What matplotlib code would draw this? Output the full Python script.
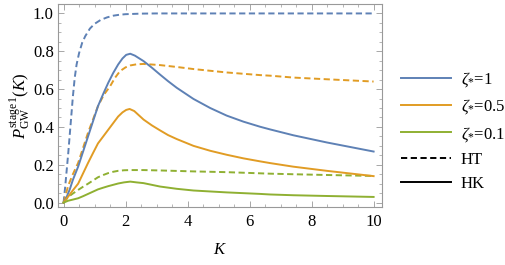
import matplotlib
matplotlib.use("Agg")
import matplotlib.pyplot as plt
from matplotlib.ticker import MultipleLocator, FormatStrFormatter
from matplotlib.lines import Line2D

plt.rcParams['font.family'] = ['Liberation Serif', 'DejaVu Serif']
plt.rcParams['mathtext.fontset'] = 'custom'
plt.rcParams['mathtext.rm'] = 'Liberation Serif'
plt.rcParams['mathtext.it'] = 'Liberation Serif:italic'

# ---- HT (dashed) curves ----
K_ht_z1 = [0, 0.05, 0.1, 0.15, 0.2, 0.25, 0.3, 0.36, 0.42, 0.5, 0.6, 0.7, 0.85, 1.0, 1.2, 1.4, 1.6, 1.8, 2.0, 2.5, 3.0, 10.0]
ht_z1 = [0, 0.08, 0.17, 0.26, 0.36, 0.46, 0.56, 0.66, 0.73, 0.79, 0.845, 0.88, 0.92, 0.945, 0.966, 0.979, 0.988, 0.993, 0.996, 0.999, 1.0, 1.0]

K_ht_z05 = [0, 0.15, 0.3, 0.47, 0.63, 0.79, 0.95, 1.11, 1.3, 1.5, 1.66, 1.82, 2.0, 2.15, 2.35, 2.58, 3.11, 3.65, 4.19, 5.26, 6.34, 6.66, 7.41, 8.49, 10.0]
ht_z05 = [0, 0.09, 0.15, 0.21, 0.29, 0.37, 0.44, 0.51, 0.57, 0.615, 0.66, 0.695, 0.715, 0.725, 0.731, 0.733, 0.727, 0.717, 0.706, 0.688, 0.674, 0.671, 0.661, 0.652, 0.64]

K_ht_z01 = [0, 0.15, 0.3, 0.47, 0.63, 0.79, 0.95, 1.11, 1.28, 1.44, 1.6, 1.76, 1.95, 2.15, 2.58, 3.11, 4.19, 5.26, 6.66, 7.41, 8.49, 10.0]
ht_z01 = [0, 0.03, 0.048, 0.067, 0.084, 0.10, 0.117, 0.134, 0.146, 0.156, 0.163, 0.168, 0.171, 0.172, 0.172, 0.170, 0.165, 0.161, 0.153, 0.150, 0.146, 0.141]

# ---- HK (solid) curves ----
K_hk_z1 = [0, 0.1, 0.2, 0.3, 0.47, 0.63, 0.79, 0.95, 1.11, 1.28, 1.44, 1.6, 1.76, 1.9, 2.02, 2.15, 2.3, 2.58, 2.85, 3.11, 3.37, 3.65, 4.19, 4.73, 5.26, 5.8, 6.34, 6.66, 7.41, 8.49, 10.0]
hk_z1 = [0, 0.03, 0.07, 0.12, 0.19, 0.27, 0.35, 0.43, 0.51, 0.575, 0.633, 0.685, 0.73, 0.762, 0.781, 0.787, 0.777, 0.748, 0.713, 0.677, 0.642, 0.607, 0.548, 0.50, 0.46, 0.428, 0.401, 0.387, 0.356, 0.318, 0.27]

K_hk_z05 = [0, 0.15, 0.3, 0.47, 0.63, 0.79, 0.95, 1.11, 1.28, 1.44, 1.6, 1.76, 1.9, 2.02, 2.13, 2.28, 2.58, 2.85, 3.11, 3.37, 3.65, 4.19, 4.73, 5.26, 5.8, 6.34, 6.66, 7.41, 8.49, 10.0]
hk_z05 = [0, 0.032, 0.065, 0.10, 0.155, 0.21, 0.262, 0.313, 0.35, 0.385, 0.42, 0.455, 0.477, 0.49, 0.495, 0.484, 0.439, 0.408, 0.382, 0.357, 0.336, 0.30, 0.274, 0.253, 0.234, 0.218, 0.209, 0.19, 0.168, 0.140]

K_hk_z01 = [0, 0.15, 0.3, 0.47, 0.63, 0.79, 0.95, 1.11, 1.28, 1.44, 1.6, 1.76, 1.95, 2.15, 2.35, 2.58, 3.11, 3.65, 4.19, 5.26, 6.34, 6.66, 7.41, 8.49, 10.0]
hk_z01 = [0, 0.01, 0.016, 0.023, 0.034, 0.046, 0.058, 0.07, 0.079, 0.087, 0.094, 0.101, 0.107, 0.111, 0.107, 0.103, 0.085, 0.073, 0.064, 0.054, 0.046, 0.043, 0.039, 0.035, 0.030]

colors = ['#5E81B5', '#E19C24', '#8FB032']
labels = [r'$\zeta_{*}$=1', r'$\zeta_{*}$=0.5', r'$\zeta_{*}$=0.1']

fig = plt.figure(figsize=(5.06, 2.65), dpi=100)
ax = fig.add_axes([0.1146, 0.219, 0.6403, 0.766])

lw = 1.4
ds = (0, (3.2, 1.8))
ax.plot(K_ht_z1, ht_z1, color=colors[0], lw=lw, ls=ds)
ax.plot(K_ht_z05, ht_z05, color=colors[1], lw=lw, ls=ds)
ax.plot(K_ht_z01, ht_z01, color=colors[2], lw=lw, ls=ds)
ax.plot(K_hk_z1, hk_z1, color=colors[0], lw=lw)
ax.plot(K_hk_z05, hk_z05, color=colors[1], lw=lw)
ax.plot(K_hk_z01, hk_z01, color=colors[2], lw=lw)

ax.set_xlim(-0.18, 10.27)
ax.set_ylim(-0.023, 1.05)
ax.xaxis.set_major_locator(MultipleLocator(2))
ax.xaxis.set_minor_locator(MultipleLocator(0.5))
ax.yaxis.set_major_locator(MultipleLocator(0.2))
ax.yaxis.set_minor_locator(MultipleLocator(0.05))
ax.yaxis.set_major_formatter(FormatStrFormatter('%.1f'))
ax.tick_params(which='both', direction='in', top=True, right=True, color='#999999',
               labelsize=12, labelcolor='black')
ax.tick_params(which='major', length=4, width=0.6)
ax.tick_params(which='minor', length=2, width=0.5)
ax.tick_params(axis='x', pad=5)
ax.tick_params(axis='y', pad=3)
for s in ax.spines.values():
    s.set_color('#999999')
    s.set_linewidth(0.8)

ax.set_xlabel(r'$K$', fontsize=12, labelpad=9)
ax.set_ylabel(r'$P_{\rm GW}^{\rm stage\,1}(K)$', fontsize=12, labelpad=1)

handles = [Line2D([], [], color=c, lw=lw) for c in colors]
handles += [Line2D([], [], color='black', lw=lw, ls=ds), Line2D([], [], color='black', lw=lw)]
leg_labels = labels + ['HT', 'HK']
fig.legend(handles, leg_labels, loc='center left', bbox_to_anchor=(0.776, 0.505),
           frameon=False, fontsize=12, handlelength=3.0, handletextpad=0.6,
           labelspacing=0.5, borderpad=0)

fig.savefig('out.png', dpi=100)
